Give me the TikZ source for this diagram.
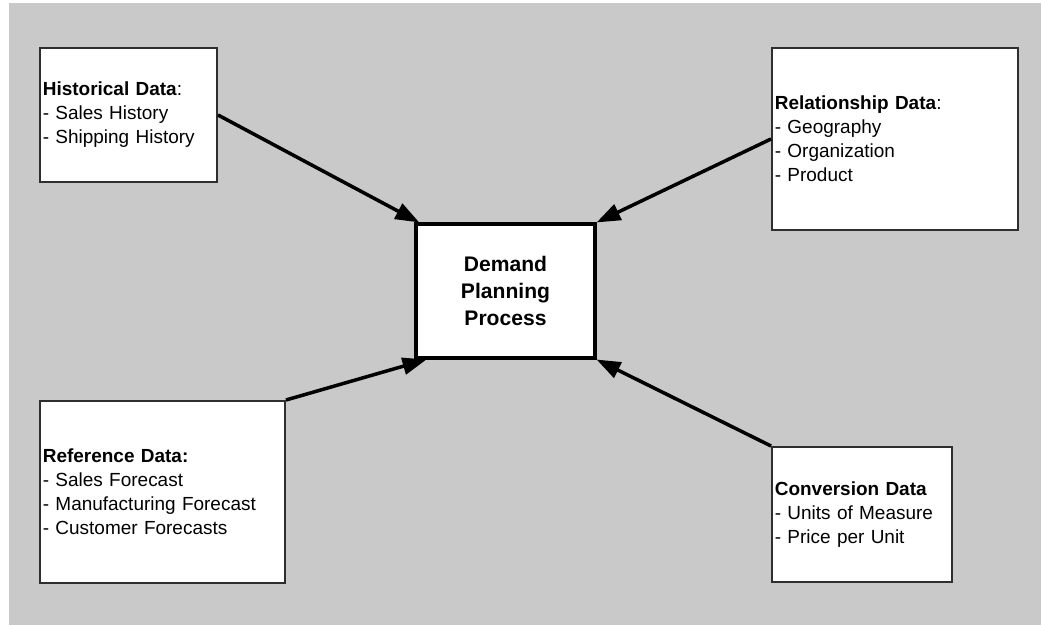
\documentclass[tikz,border=0pt]{standalone}
\usepackage{fontspec}
\setmainfont{Liberation Sans}
\usepackage{tikz}
\usetikzlibrary{arrows.meta,positioning}

\begin{document}
\begin{tikzpicture}[
  x=1cm, y=1cm,
  backdrop/.style={fill=black!21, draw=none},
  databox/.style={draw=black!82, fill=white, line width=1.4pt, inner xsep=2pt, inner ysep=0pt, align=left, font=\fontsize{13.5}{17}\selectfont},
  corebox/.style={draw=black, fill=white, line width=2.2pt, minimum width=4.475cm, minimum height=3.35cm, align=center, font=\fontsize{15}{19}\selectfont\bfseries},
  feed/.style={-{Triangle[length=17pt,width=12pt]}, draw=black, line width=2.5pt}
]
  \useasboundingbox (0,0) rectangle (26.025,15.625);
  \fill[backdrop] (0.225,0) rectangle (26.025,15.55);

  \node[corebox] (plan) at (12.6375,8.35) {Demand\\Planning\\Process};

  \node[databox, text width=4.425cm-4pt, minimum height=3.35cm] (hist) at (3.2125,12.75)
    {\textbf{Historical Data}:\\- Sales History\\- Shipping History};
  \node[databox, text width=6.15cm-4pt, minimum height=4.55cm] (rel) at (22.375,12.15)
    {\textbf{Relationship Data}:\\- Geography\\- Organization\\- Product};
  \node[databox, text width=6.125cm-4pt, minimum height=4.55cm] (ref) at (4.0625,3.325)
    {\textbf{Reference Data:}\\- Sales Forecast\\- Manufacturing Forecast\\- Customer Forecasts};
  \node[databox, text width=4.5cm-4pt, minimum height=3.375cm] (conv) at (21.55,2.7625)
    {\textbf{Conversion Data}\\- Units of Measure\\- Price per Unit};

  % inputs to the planning process
  \draw[feed] (hist.east) -- ([xshift=0.12cm]plan.north west);
  \draw[feed] (rel.west) -- (plan.north east);
  \draw[feed] (ref.north east) -- ([xshift=0.3cm]plan.south west);
  \draw[feed] (conv.north west) -- (plan.south east);
\end{tikzpicture}
\end{document}
